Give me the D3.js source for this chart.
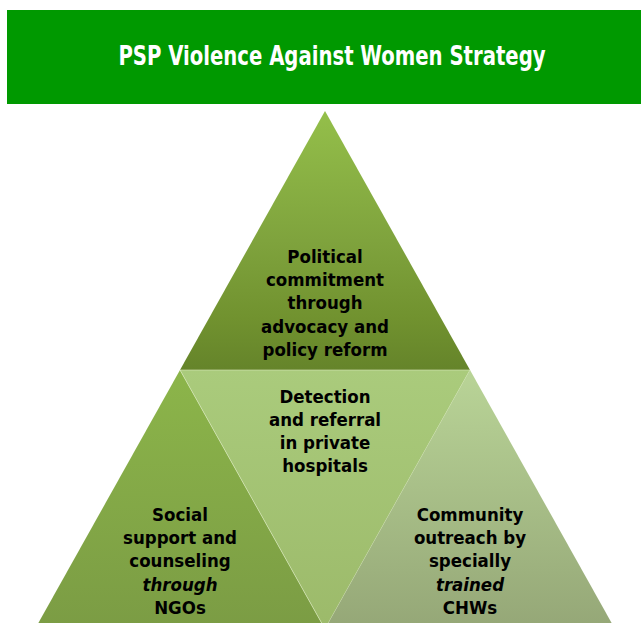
<!DOCTYPE html>
<html>
<head>
<meta charset="utf-8">
<script src="https://cdn.jsdelivr.net/npm/d3@7"></script>
<style>
  body { margin: 0; background: #fff; }
  svg { display: block; }
</style>
</head>
<body>
<div id="chart"></div>
<script>
// chart content
const titleText = "PSP Violence Against Women Strategy";
const segmentNames = ["top", "left", "middle", "right"];
const segmentLines = [
  ["Political", "commitment", "through", "advocacy and", "policy reform"],
  ["Social", "support and", "counseling", "through", "NGOs"],
  ["Detection", "and referral", "in private", "hospitals"],
  ["Community", "outreach by", "specially", "trained", "CHWs"]
];
const italicLines = [[], ["through"], [], ["trained"]];

let width = 641, height = 623;

let svg = d3.select("#chart")
  .append("svg")
  .attr("width", width)
  .attr("height", height);

// grid units: x in [-1, 1], y in [0, 2] (two rows of triangles)
let xScale = d3.scaleLinear().domain([-1, 1]).range([35, 615]);
let yScale = d3.scaleLinear().domain([0, 2]).range([111, 629]);

// triangle corners in grid units, by segment
let corners = {
  top: [[0, 0], [-0.5, 1], [0.5, 1]],
  left: [[-0.5, 1], [-1, 2], [0, 2]],
  middle: [[-0.5, 1], [0.5, 1], [0, 2]],
  right: [[0.5, 1], [0, 2], [1, 2]]
};
// where each text block starts (grid units)
let textAnchor = {
  top: [0, 0.587],
  left: [-0.5, 1.583],
  middle: [0, 1.127],
  right: [0.5, 1.583]
};
let fills = {
  top: [["0%", "#94bf4a"], ["50%", "#7fa33d"], ["80%", "#71922f"], ["100%", "#65842a"]],
  left: [["0%", "#8cb54a"], ["100%", "#7b9c44"]],
  middle: [["0%", "#aacb7c"], ["100%", "#9cba6a"]],
  right: [["0%", "#b9d497"], ["100%", "#95a777"]]
};

let defs = svg.append("defs");
segmentNames.forEach(name => {
  let ys = corners[name].map(c => c[1]);
  let g = defs.append("linearGradient")
    .attr("id", "grad-" + name)
    .attr("gradientUnits", "userSpaceOnUse")
    .attr("x1", 0).attr("x2", 0)
    .attr("y1", yScale(d3.min(ys)))
    .attr("y2", yScale(d3.max(ys)));
  fills[name].forEach(s => {
    g.append("stop").attr("offset", s[0]).attr("stop-color", s[1]);
  });
});

// banner
svg.append("rect")
  .attr("x", 7)
  .attr("y", 10)
  .attr("width", width - 7)
  .attr("height", 94)
  .attr("fill", "#009900");

// condensed title: squeeze horizontally
let squeeze = 0.81;
svg.append("g")
  .attr("transform", "scale(" + squeeze + ",1)")
  .append("text")
  .attr("x", 332 / squeeze)
  .attr("y", 65)
  .attr("text-anchor", "middle")
  .attr("font-family", "DejaVu Sans Condensed, DejaVu Sans, sans-serif")
  .attr("font-weight", "bold")
  .attr("font-size", 27)
  .attr("fill", "#fff")
  .text(titleText);

// triangles
let line = d3.line().x(d => xScale(d[0])).y(d => yScale(d[1])).curve(d3.curveLinearClosed);

svg.selectAll(".segment")
  .data(segmentNames)
  .enter()
  .append("path")
  .attr("class", "segment")
  .attr("d", d => line(corners[d]))
  .attr("fill", d => "url(#grad-" + d + ")")
  .attr("stroke", d => d === "middle" ? "rgba(220,235,190,0.6)" : "none")
  .attr("stroke-width", 1);

// labels
let lineHeight = 23.2;
let label = svg.selectAll(".label")
  .data(segmentNames)
  .enter()
  .append("text")
  .attr("class", "label")
  .attr("text-anchor", "middle")
  .attr("font-family", "DejaVu Sans Condensed, DejaVu Sans, sans-serif")
  .attr("font-weight", "bold")
  .attr("font-size", 18.5)
  .attr("fill", "#000");

label.each(function(name, i) {
  let t = d3.select(this);
  segmentLines[i].forEach((s, j) => {
    t.append("tspan")
      .attr("x", xScale(textAnchor[name][0]))
      .attr("y", yScale(textAnchor[name][1]) + j * lineHeight)
      .attr("font-style", italicLines[i].includes(s) ? "italic" : "normal")
      .text(s);
  });
});
</script>
</body>
</html>
